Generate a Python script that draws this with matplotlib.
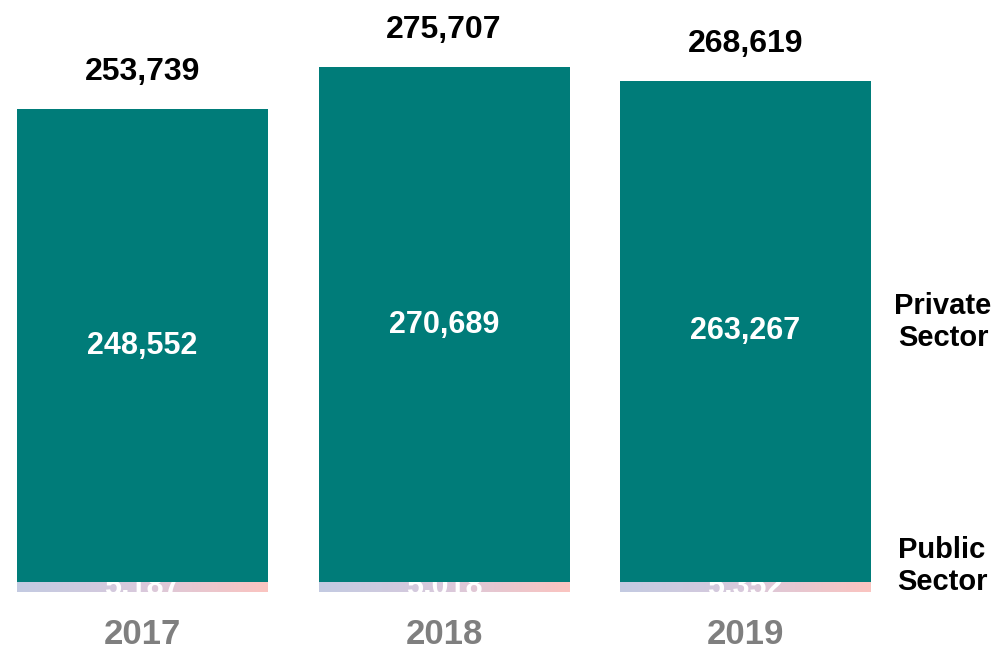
import numpy as np
import matplotlib
matplotlib.use("Agg")
import matplotlib.pyplot as plt
from matplotlib.colors import LinearSegmentedColormap

years = ["2017", "2018", "2019"]
private_sector = [248552, 270689, 263267]
public_sector = [5187, 5018, 5352]
totals = [253739, 275707, 268619]

TEAL = "#007c79"
FONT = "Liberation Sans"

W, H, DPI = 999, 651, 100
fig = plt.figure(figsize=(W / DPI, H / DPI), dpi=DPI)
ax = fig.add_axes([0, 0, 1, 1])
ax.axis("off")

# pixel-to-data mapping: bar pitch and value scale
pitch_px = 301.5
first_center_px = 142.5
base_px = 592
units_per_px = 525.5
ax.set_xlim(-first_center_px / pitch_px, (W - first_center_px) / pitch_px)
ax.set_ylim(-(H - base_px) * units_per_px, base_px * units_per_px)

x = np.arange(len(years))
width = 251 / pitch_px

# public sector: thin gradient bar at the base
grad_cmap = LinearSegmentedColormap.from_list("pub", ["#c3cbe2", "#d9c9dc", "#fbc4c0"])
grad = np.linspace(0, 1, 256).reshape(1, -1)
pub_bars = ax.bar(x, public_sector, width=width, color="none", edgecolor="none", zorder=2)
for rect in pub_bars:
    x0, y0 = rect.get_x(), rect.get_y()
    im = ax.imshow(grad, cmap=grad_cmap, aspect="auto",
                   extent=(x0, x0 + rect.get_width(), y0, y0 + rect.get_height()),
                   zorder=2)
    im.set_clip_path(rect)

# private sector stacked on top
ax.bar(x, private_sector, width=width, bottom=public_sector, color=TEAL,
       edgecolor="none", zorder=3)

for i in range(len(years)):
    # value inside the private segment
    ax.text(x[i], public_sector[i] + private_sector[i] / 2, f"{private_sector[i]:,}",
            ha="center", va="center", color="white", fontsize=22,
            fontweight="bold", family=FONT, zorder=5)
    # public sector value, white on the thin base bar (partly under the teal)
    ax.text(x[i], public_sector[i] / 2, f"{public_sector[i]:,}",
            ha="center", va="center", color="white", fontsize=22,
            fontweight="bold", family=FONT, zorder=2.5)
    # total above the bar
    ax.text(x[i], totals[i] + 37 * units_per_px, f"{totals[i]:,}",
            ha="center", va="center", color="black", fontsize=23,
            fontweight="bold", family=FONT, zorder=5)
    # year label
    ax.text(x[i], -(634 - base_px) * units_per_px, years[i],
            ha="center", va="center", color="#7f7f7f", fontsize=25,
            fontweight="bold", family=FONT)

# series names at the right
ax.text(943 / W, 1 - 322 / H, "Private\nSector", transform=fig.transFigure,
        ha="center", va="center", fontsize=21, fontweight="bold", family=FONT,
        linespacing=1.15)
ax.text(942 / W, 1 - 566 / H, "Public\nSector", transform=fig.transFigure,
        ha="center", va="center", fontsize=21, fontweight="bold", family=FONT,
        linespacing=1.15)

fig.savefig("out.png", dpi=DPI, facecolor="white")
